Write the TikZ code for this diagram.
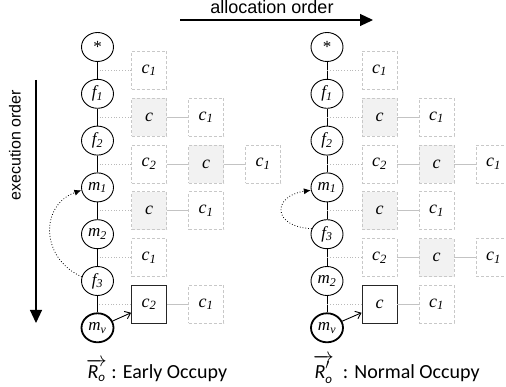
\documentclass[tikz,border=0pt]{standalone}
\usepackage{fontspec}
\setmainfont{Liberation Serif}
\newfontfamily\arialf{Liberation Sans}
\newfontfamily\calib{Carlito}
\usetikzlibrary{shapes.geometric,arrows.meta}
\definecolor{boxgray}{RGB}{200,200,200}
\definecolor{fillgray}{RGB}{242,242,242}
\definecolor{dotgray}{RGB}{185,185,185}
\definecolor{linkgray}{RGB}{195,195,195}
\newcommand\lbs[2]{#1\textsubscript{#2}}
\newcommand\Rvec[1]{$\overrightarrow{\mbox{\itshape R}#1_{\mbox{\fontsize{13}{13}\selectfont\itshape o}}}$}
\begin{document}
\begin{tikzpicture}[x=1pt,y=-1pt,
 cnode/.style={ellipse, draw, line width=0.9pt, minimum width=32pt, minimum height=29pt, inner sep=0pt, font=\fontsize{17}{17}\selectfont\itshape},
 vnode/.style={cnode, line width=1.8pt},
 gbox/.style={draw=boxgray, dash pattern=on 3pt off 2pt, line width=0.8pt, minimum width=35pt, minimum height=38pt, inner sep=0pt, font=\fontsize{18}{18}\selectfont\itshape},
 fbox/.style={gbox, fill=fillgray},
 sbox/.style={gbox, solid, draw=black!85, line width=0.9pt},
 spine/.style={line width=0.9pt},
 dotc/.style={draw=dotgray, dotted, line width=0.8pt},
 link/.style={draw=linkgray, line width=0.8pt},
 curv/.style={dotted, line width=0.8pt, -{Latex[length=7pt,width=6pt]}},
 occ/.style={line width=0.9pt, -{Straight Barb[length=5pt,width=8pt]}},
 bigarrow/.style={line width=1.2pt, -{Triangle[length=13pt,width=12pt]}},
]
\useasboundingbox (0,0) rectangle (506,387);

% ---------- left diagram ----------
\node[cnode, font=\fontsize{17}{17}\selectfont] (Ls) at (97.5,47) {*};
\node[cnode] (Lf1) at (97.5,93.8) {\lbs{f}{1}};
\node[cnode] (Lf2) at (97.5,140.6) {\lbs{f}{2}};
\node[cnode] (Lm1) at (97.5,187.4) {\lbs{m}{1}};
\node[cnode] (Lm2) at (97.5,234.2) {\lbs{m}{2}};
\node[cnode] (Lf3) at (97.5,281) {\lbs{f}{3}};
\node[vnode] (Lmv) at (97.5,327.8) {\lbs{m}{v}};
\draw[spine] (Ls) -- (Lf1) -- (Lf2) -- (Lm1) -- (Lm2) -- (Lf3) -- (Lmv);

\node[gbox] (L1a) at (149,70.4) {\lbs{c}{1}};
\node[fbox] (L2a) at (149,117.2) {c};
\node[gbox] (L2b) at (206,117.2) {\lbs{c}{1}};
\node[gbox] (L3a) at (149,164) {\lbs{c}{2}};
\node[fbox] (L3b) at (206,164) {c};
\node[gbox] (L3c) at (263,164) {\lbs{c}{1}};
\node[fbox] (L4a) at (149,210.8) {c};
\node[gbox] (L4b) at (206,210.8) {\lbs{c}{1}};
\node[gbox] (L5a) at (149,257.6) {\lbs{c}{1}};
\node[sbox] (L6a) at (149,304.4) {\lbs{c}{2}};
\node[gbox] (L6b) at (206,304.4) {\lbs{c}{1}};

\foreach \b in {L1a,L2a,L3a,L4a,L5a,L6a}
  \draw[dotc] (\b.west) -- (\b.west -| Ls.center);
\draw[link] (L2a) -- (L2b);
\draw[link] (L3a) -- (L3b);
\draw[link] (L3b) -- (L3c);
\draw[link] (L4a) -- (L4b);
\draw[link] (L6a) -- (L6b);

\draw[curv] (Lf3.165) .. controls (40,258) and (40,205) .. (Lm1.190);
\draw[occ] (Lmv) -- (L6a.205);

% ---------- right diagram ----------
\node[cnode, font=\fontsize{17}{17}\selectfont] (Rs) at (327,47) {*};
\node[cnode] (Rf1) at (327,93.8) {\lbs{f}{1}};
\node[cnode] (Rf2) at (327,140.6) {\lbs{f}{2}};
\node[cnode] (Rm1) at (327,187.4) {\lbs{m}{1}};
\node[cnode] (Rf3) at (327,234.2) {\lbs{f}{3}};
\node[cnode] (Rm2) at (327,281) {\lbs{m}{2}};
\node[vnode] (Rmv) at (327,327.8) {\lbs{m}{v}};
\draw[spine] (Rs) -- (Rf1) -- (Rf2) -- (Rm1) -- (Rf3) -- (Rm2) -- (Rmv);

\node[gbox] (R1a) at (379.5,70.4) {\lbs{c}{1}};
\node[fbox] (R2a) at (379.5,117.2) {c};
\node[gbox] (R2b) at (436.5,117.2) {\lbs{c}{1}};
\node[gbox] (R3a) at (379.5,164) {\lbs{c}{2}};
\node[fbox] (R3b) at (436.5,164) {c};
\node[gbox] (R3c) at (493.5,164) {\lbs{c}{1}};
\node[fbox] (R4a) at (379.5,210.8) {c};
\node[gbox] (R4b) at (436.5,210.8) {\lbs{c}{1}};
\node[gbox] (R5a) at (379.5,257.6) {\lbs{c}{2}};
\node[fbox] (R5b) at (436.5,257.6) {c};
\node[gbox] (R5c) at (493.5,257.6) {\lbs{c}{1}};
\node[sbox] (R6a) at (379.5,304.4) {c};
\node[gbox] (R6b) at (436.5,304.4) {\lbs{c}{1}};

\foreach \b in {R1a,R2a,R3a,R4a,R5a,R6a}
  \draw[dotc] (\b.west) -- (\b.west -| Rs.center);
\draw[link] (R2a) -- (R2b);
\draw[link] (R3a) -- (R3b);
\draw[link] (R3b) -- (R3c);
\draw[link] (R4a) -- (R4b);
\draw[link] (R5a) -- (R5b);
\draw[link] (R5b) -- (R5c);
\draw[link] (R6a) -- (R6b);

\draw[curv] (Rf3.160) .. controls (272,227) and (272,196) .. (Rm1.190);
\draw[occ] (Rmv) -- (R6a.205);

% ---------- order arrows ----------
\node[anchor=base, font=\arialf\fontsize{18}{18}\selectfont, inner sep=0pt] (alloc) at (272,13.5) {allocation order};
\coordinate (a1) at (180,20);
\coordinate (a2) at (373,20);
\draw[bigarrow] (a1) -- (a2);

\node[rotate=90, font=\arialf\fontsize{16}{16}\selectfont, inner sep=0pt] (exec) at (15,145) {execution order};
\coordinate (e1) at (36,80);
\coordinate (e2) at (36,323);
\draw[bigarrow] (e1) -- (e2);

% ---------- captions ----------
\node[anchor=base west, font=\calib\fontsize{20}{20}\selectfont, inner sep=0pt] (capL) at (86,378) {\Rvec{} : Early Occupy};
\node[anchor=base west, font=\calib\fontsize{20}{20}\selectfont, inner sep=0pt] (capR) at (313,378) {\Rvec{'}\ \ : Normal Occupy};
\end{tikzpicture}
\end{document}
